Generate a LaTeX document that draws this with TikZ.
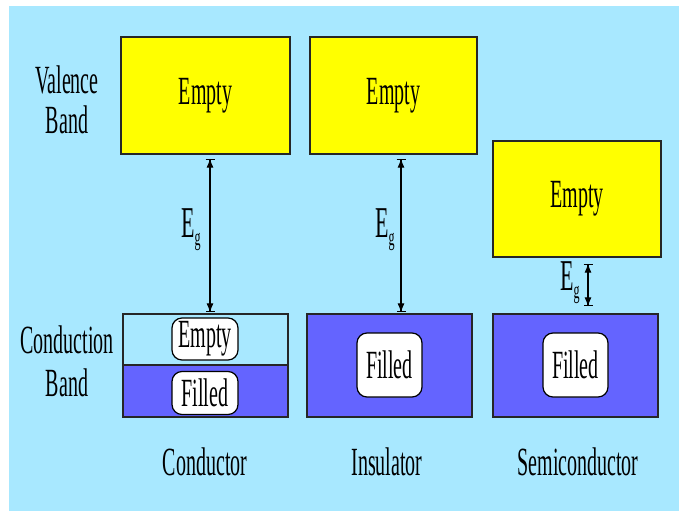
\documentclass[tikz,border=0pt]{standalone}
\usepackage{fontspec}
\setmainfont{Liberation Serif}
\usetikzlibrary{arrows.meta}

\tikzset{>=Latex}
\definecolor{skycol}{RGB}{168,232,255}
\definecolor{bluecol}{RGB}{100,100,255}
\definecolor{yellcol}{RGB}{255,255,0}
\tikzstyle{band}=[draw=black!85,line width=1.3pt,inner sep=0pt]
\tikzstyle{pill}=[draw,fill=white,rounded corners=10pt,line width=1.2pt,inner sep=0pt,minimum width=66,minimum height=42]
\tikzstyle{txt}=[font=\fontsize{20}{20}\selectfont,yscale=2,align=center,inner sep=0pt]
\tikzstyle{gap}=[{Latex[length=9pt,width=7pt]}-{Latex[length=9pt,width=7pt]},line width=1pt]
\tikzstyle{gapbar}=[{Bar[width=9pt]}-{Bar[width=9pt]},line width=1.2pt]
\def\Eg{E\raisebox{-4pt}{\fontsize{12}{12}\selectfont g}}

\begin{document}
\begin{tikzpicture}[x=1pt,y=-1pt]
  \useasboundingbox[fill=white] (0,0) rectangle (679,511);
  \fill[skycol] (9,6) rectangle (679,511);

  % BANDS
  \node[band,fill=yellcol,minimum width=169,minimum height=117] (cval) at (205.5,95.5) {};
  \node[band,fill=yellcol,minimum width=167,minimum height=117] (ival) at (393.5,95.5) {};
  \node[band,fill=yellcol,minimum width=168,minimum height=116] (sval) at (577,199) {};
  \node[band,fill=skycol,minimum width=165,minimum height=51] (cempty) at (205.5,339.5) {};
  \node[band,fill=bluecol,minimum width=165,minimum height=52] (cfill) at (205.5,391) {};
  \node[band,fill=bluecol,minimum width=165,minimum height=103] (icond) at (389.5,365.5) {};
  \node[band,fill=bluecol,minimum width=165,minimum height=103] (scond) at (575.5,365.5) {};
  \foreach \b in {cval,ival,sval}
    \node[txt] at (\b) {Empty};

  % PILLS
  \node[pill] (cpe) at (205,339) {};
  \node[pill,minimum height=43] (cpf) at (205,393) {};
  \node[pill,minimum width=65,minimum height=64] (ipf) at (389.5,365) {};
  \node[pill,minimum width=65,minimum height=64] (spf) at (575.5,365) {};
  \node[txt] at (cpe) {Empty};
  \foreach \p in {cpf,ipf,spf}
    \node[txt] at (\p) {Filled};

  % GAPS
  \coordinate (ct) at ([xshift=4.5,yshift=-4]cval.south);
  \coordinate (cb) at ([xshift=4.5,yshift=1]cval.south |- cempty.north);
  \coordinate (it) at ([xshift=7.5,yshift=-4]ival.south);
  \coordinate (ib) at ([xshift=7.5,yshift=1]ival.south |- icond.north);
  \coordinate (st) at ([xshift=11,yshift=-6]sval.south);
  \coordinate (sb) at ([xshift=11,yshift=7]sval.south |- scond.north);
  \foreach \a/\b in {ct/cb,it/ib,st/sb}{
    \draw[gap] (\a) -- (\b);
    \draw[gapbar] (\a) -- (\b);
  }
  \node[txt,font=\fontsize{22}{22}\selectfont] (cg) at (191,230) {\Eg};
  \node[txt,font=\fontsize{22}{22}\selectfont] (ig) at (385,230) {\Eg};
  \node[txt,font=\fontsize{22}{22}\selectfont] (sg) at (570,283) {\Eg};

  % LABELS
  \node[txt] (vlab) at (67,100) {Valence\\Band};
  \node[txt] (clab) at (67,361) {Conduction\\[1.5pt]Band};
  \node[txt] (cname) at (205,462) {Conductor};
  \node[txt] (iname) at (387,462) {Insulator};
  \node[txt] (sname) at (578,462) {Semiconductor};
\end{tikzpicture}
\end{document}
